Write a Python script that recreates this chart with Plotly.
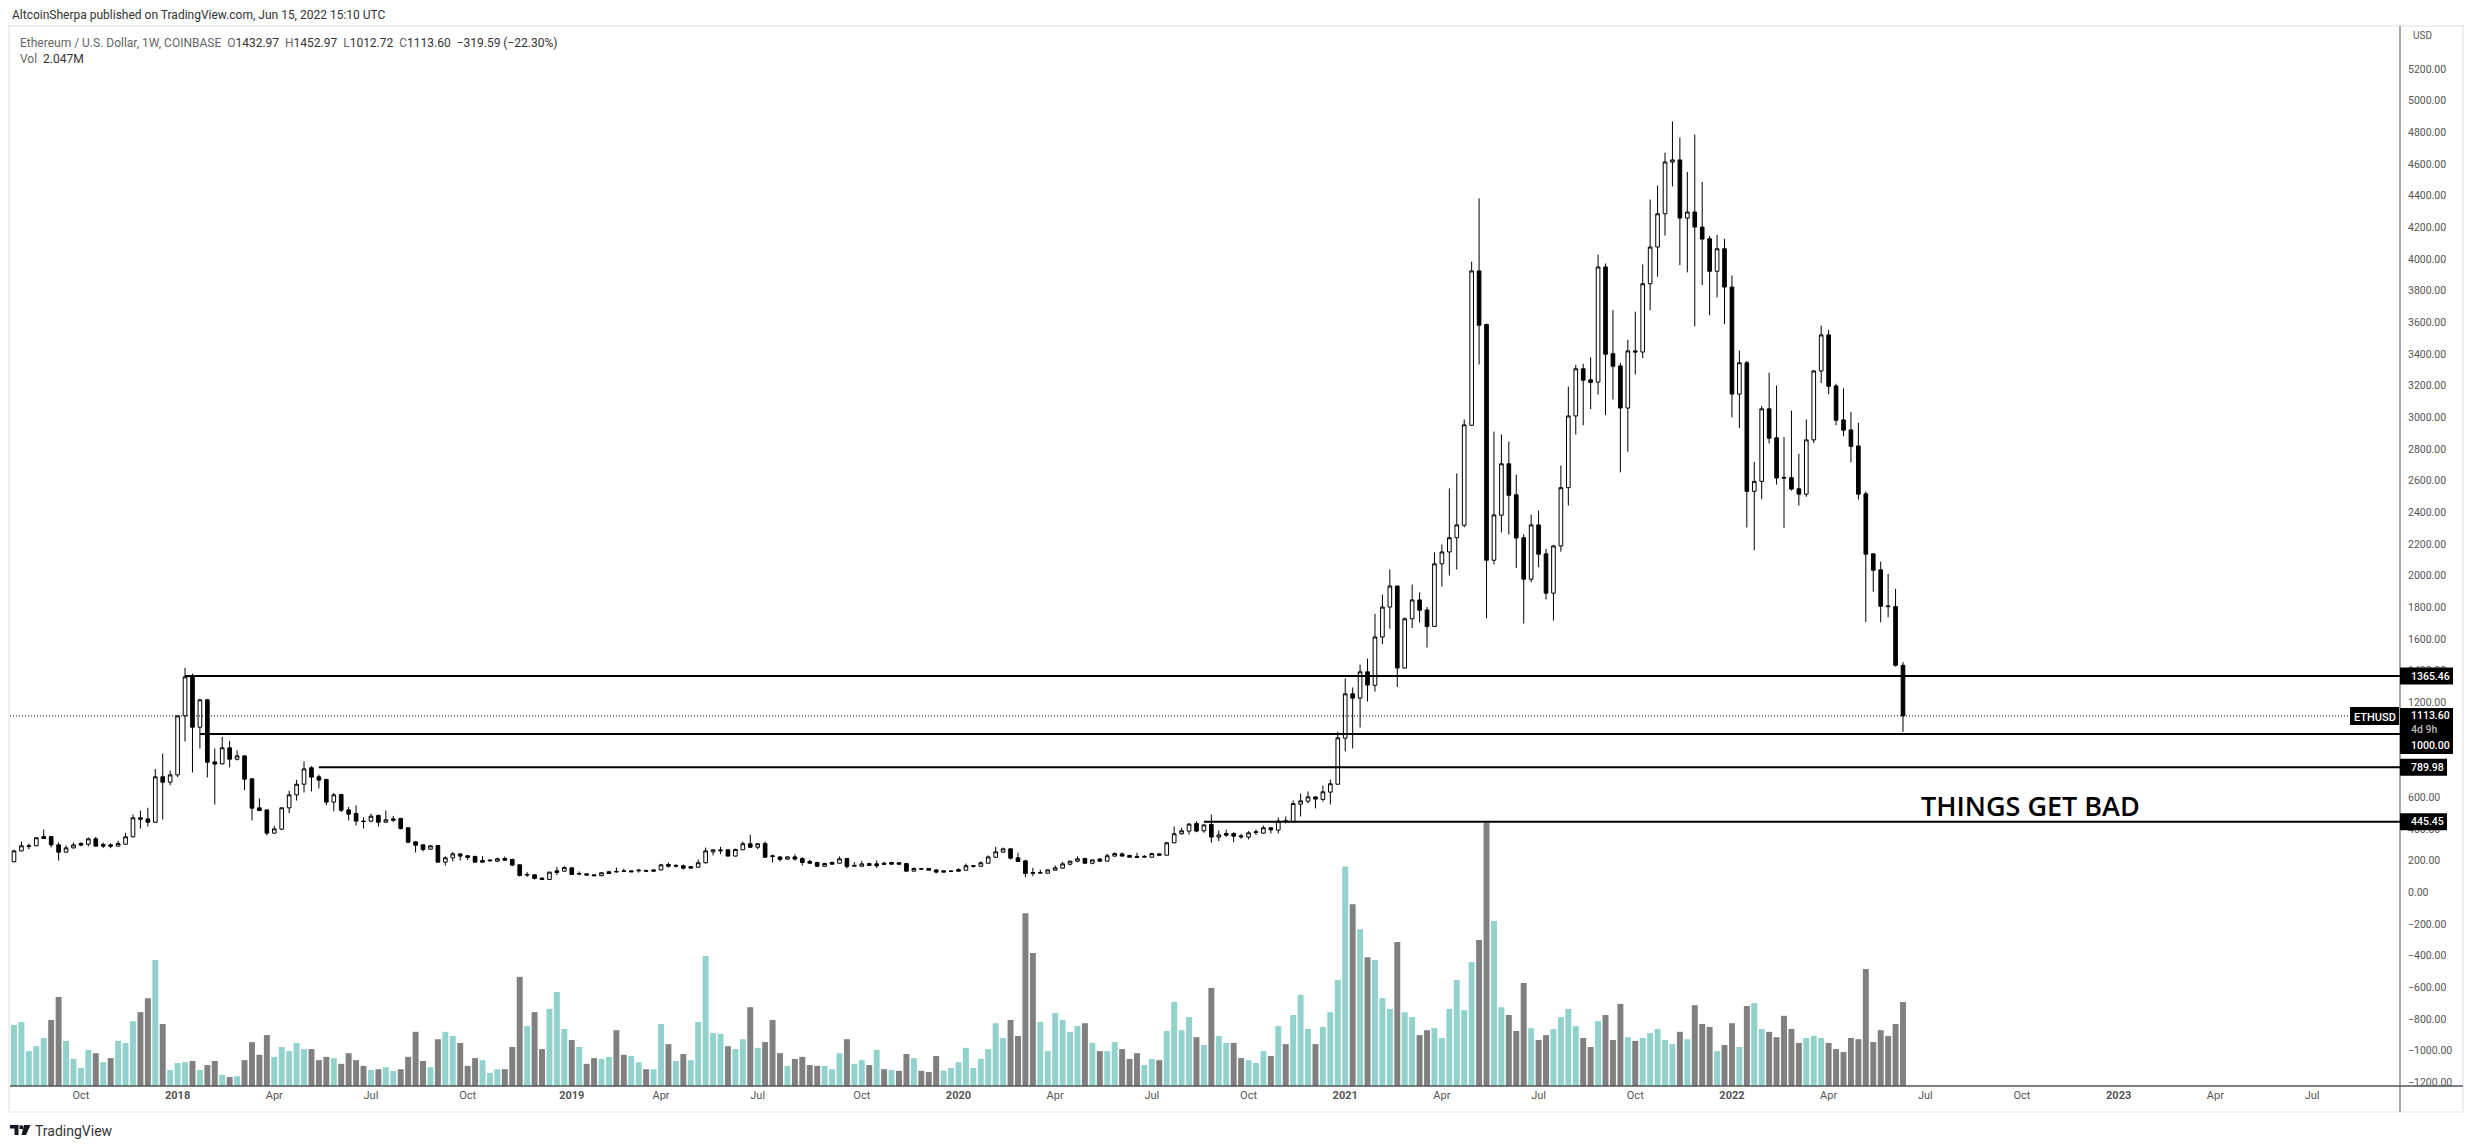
import pandas as pd
import plotly.graph_objects as go

# weekly ETHUSD bars
opens = [
    192, 261, 289, 293, 352, 352, 299, 253, 280, 308,
    303, 337, 301, 299, 291, 303, 350, 470, 463, 442,
    729, 695, 741, 1114, 1360, 1042, 1215, 823, 811, 912,
    840, 861, 716, 533, 520, 373, 398, 533, 615, 682,
    786, 729, 712, 569, 617, 520, 497, 449, 449, 485,
    442, 463, 466, 407, 318, 299, 272, 295, 190, 217,
    242, 230, 226, 200, 198, 196, 213, 207, 173, 108,
    110, 89, 80, 135, 133, 154, 114, 116, 110, 104,
    129, 131, 135, 135, 135, 137, 141, 141, 175, 164,
    167, 162, 158, 186, 255, 261, 268, 228, 268, 306,
    284, 308, 230, 223, 209, 223, 213, 194, 188, 164,
    188, 183, 213, 164, 164, 181, 179, 183, 188, 186,
    181, 133, 148, 150, 141, 135, 131, 143, 139, 162,
    164, 183, 221, 253, 274, 217, 198, 124, 120, 120,
    139, 152, 177, 196, 213, 183, 209, 196, 228, 242,
    232, 226, 221, 221, 242, 234, 312, 369, 386, 434,
    388, 428, 348, 371, 371, 356, 348, 377, 373, 407,
    392, 451, 445, 556, 575, 602, 586, 632, 682, 973,
    1253, 1226, 1392, 1307, 1612, 1801, 1934, 1416, 1727, 1846,
    1783, 1679, 2074, 2149, 2239, 2318, 2949, 3924, 3586, 2097,
    2381, 2706, 2510, 2239, 1977, 2320, 2137, 1889, 2187, 2555,
    3008, 3306, 3236, 3222, 3949, 3401, 3324, 3058, 3419, 3412,
    3843, 4075, 4285, 4612, 4625, 4258, 4296, 4201, 4127, 3922,
    4064, 3822, 3146, 3344, 2532, 2595, 3053, 2870, 2620, 2618,
    2548, 2514, 2857, 3292, 3520, 3198, 2983, 2920, 2819, 2516,
    2137, 2036, 1808, 1804, 1432.97,
]
highs = [
    268, 320, 308, 346, 396, 354, 314, 295, 314, 316,
    346, 350, 314, 308, 325, 375, 491, 516, 533, 779,
    876, 769, 1116, 1417, 1381, 1221, 1221, 908, 981, 956,
    895, 863, 720, 592, 522, 419, 535, 642, 710, 826,
    796, 743, 716, 628, 621, 539, 548, 472, 497, 491,
    516, 482, 470, 411, 320, 301, 297, 295, 226, 255,
    245, 232, 230, 228, 207, 219, 226, 211, 175, 127,
    111, 93, 128, 160, 165, 155, 131, 117, 111, 124,
    135, 156, 148, 136, 148, 143, 142, 179, 188, 177,
    175, 164, 207, 282, 272, 287, 269, 276, 320, 364,
    310, 320, 238, 226, 226, 238, 221, 204, 192, 186,
    194, 226, 214, 190, 198, 186, 200, 192, 192, 187,
    182, 156, 149, 151, 143, 136, 139, 150, 181, 169,
    194, 232, 287, 282, 276, 249, 204, 154, 143, 143,
    169, 192, 200, 226, 217, 207, 217, 244, 251, 251,
    238, 249, 234, 249, 244, 318, 415, 407, 438, 449,
    428, 491, 390, 396, 379, 369, 386, 396, 421, 409,
    472, 478, 579, 623, 636, 605, 674, 712, 1013, 1350,
    1293, 1438, 1476, 1758, 1880, 2038, 1936, 1736, 1943, 1894,
    1801, 2146, 2196, 2550, 2645, 2986, 3983, 4382, 3592, 2909,
    2891, 2846, 2638, 2261, 2385, 2410, 2169, 2194, 2695, 3193,
    3331, 3337, 3378, 4028, 3971, 3676, 3344, 3489, 3667, 3965,
    4375, 4463, 4671, 4868, 4767, 4549, 4785, 4486, 4145, 4152,
    4127, 3895, 3421, 3355, 2717, 3071, 3281, 3200, 2875, 3042,
    2769, 2986, 3299, 3579, 3552, 3211, 3182, 3033, 2965, 2530,
    2140, 2088, 2011, 1916, 1452.97,
]
lows = [
    190, 257, 272, 291, 337, 282, 200, 252, 276, 291,
    289, 289, 280, 278, 289, 301, 346, 402, 415, 440,
    459, 676, 727, 952, 756, 908, 725, 554, 807, 788,
    832, 645, 453, 512, 360, 369, 392, 499, 579, 630,
    636, 655, 550, 510, 506, 453, 421, 402, 442, 415,
    440, 444, 396, 310, 251, 257, 270, 189, 169, 194,
    200, 203, 186, 188, 194, 190, 198, 165, 99, 97,
    80, 78, 79, 108, 131, 111, 110, 107, 103, 102,
    116, 123, 127, 128, 124, 131, 132, 137, 156, 156,
    143, 150, 156, 181, 232, 240, 227, 227, 266, 280,
    272, 219, 188, 194, 207, 200, 169, 181, 162, 162,
    175, 181, 150, 162, 162, 167, 152, 175, 175, 175,
    131, 131, 145, 138, 118, 126, 127, 131, 137, 156,
    162, 181, 219, 249, 207, 192, 95, 101, 119, 119,
    139, 148, 169, 190, 181, 177, 194, 194, 226, 226,
    219, 215, 220, 219, 232, 232, 310, 364, 364, 379,
    375, 312, 322, 350, 316, 337, 333, 360, 369, 371,
    371, 434, 442, 478, 562, 529, 573, 554, 680, 889,
    908, 1040, 1204, 1267, 1567, 1664, 1296, 1414, 1668, 1704,
    1546, 1675, 1930, 2000, 2038, 2304, 2945, 3333, 1731, 2070,
    2273, 2259, 2047, 1697, 1957, 2052, 1849, 1716, 2151, 2442,
    2891, 2949, 3051, 3143, 3013, 3112, 2652, 2783, 3270, 3374,
    3676, 3888, 4147, 4458, 3960, 3915, 3574, 3834, 3644, 3757,
    3588, 2999, 2931, 2304, 2160, 2482, 2834, 2575, 2300, 2537,
    2442, 2498, 2837, 3216, 3146, 2949, 2880, 2715, 2480, 1707,
    1898, 1704, 1736, 1425, 1012.72,
]
closes = [
    261, 293, 293, 344, 339, 299, 253, 280, 299, 297,
    337, 291, 291, 291, 308, 350, 470, 461, 442, 729,
    695, 741, 1114, 1360, 1042, 1215, 821, 809, 912, 840,
    861, 714, 531, 516, 373, 400, 533, 615, 682, 779,
    727, 708, 569, 615, 518, 493, 449, 447, 480, 442,
    457, 455, 402, 316, 297, 270, 293, 190, 217, 242,
    228, 219, 190, 190, 202, 211, 202, 171, 106, 112,
    87, 80, 127, 125, 156, 112, 118, 108, 104, 123,
    118, 129, 131, 129, 139, 133, 133, 173, 164, 169,
    152, 152, 186, 261, 268, 266, 228, 270, 306, 284,
    306, 221, 226, 207, 223, 209, 188, 183, 164, 181,
    177, 211, 162, 169, 179, 169, 167, 177, 177, 177,
    133, 150, 146, 139, 127, 127, 133, 133, 167, 167,
    186, 223, 255, 274, 215, 194, 118, 120, 124, 141,
    154, 179, 196, 211, 183, 204, 196, 230, 244, 228,
    221, 221, 226, 244, 234, 312, 369, 388, 430, 386,
    425, 348, 362, 360, 354, 350, 375, 381, 407, 394,
    449, 447, 560, 577, 602, 588, 634, 685, 975, 1253,
    1226, 1392, 1308, 1612, 1801, 1934, 1416, 1727, 1846, 1781,
    1679, 2074, 2149, 2239, 2320, 2952, 3924, 3581, 2097, 2383,
    2706, 2507, 2237, 1977, 2320, 2135, 1889, 2187, 2555, 3008,
    3306, 3234, 3220, 3949, 3398, 3322, 3058, 3419, 3412, 3843,
    4075, 4285, 4612, 4625, 4258, 4296, 4201, 4125, 3922, 4064,
    3822, 3146, 3344, 2532, 2595, 3053, 2868, 2616, 2616, 2546,
    2514, 2857, 3292, 3520, 3195, 2981, 2918, 2816, 2514, 2135,
    2034, 1806, 1804, 1433, 1113.60,
]
# volume in millions
volumes = [
    1.49, 1.56, 0.85, 0.97, 1.17, 1.61, 2.17, 1.10, 0.66, 0.44,
    0.88, 0.80, 0.58, 0.68, 1.10, 1.05, 1.58, 1.80, 2.14, 3.07,
    1.51, 0.39, 0.56, 0.58, 0.61, 0.39, 0.51, 0.61, 0.27, 0.22,
    0.24, 0.63, 1.07, 0.76, 1.24, 0.71, 0.95, 0.85, 1.05, 0.90,
    0.90, 0.63, 0.71, 0.68, 0.54, 0.80, 0.63, 0.49, 0.39, 0.41,
    0.46, 0.37, 0.41, 0.71, 1.32, 0.61, 0.46, 1.14, 1.32, 1.22,
    1.05, 0.49, 0.68, 0.63, 0.32, 0.41, 0.41, 0.95, 2.66, 1.46,
    1.80, 0.90, 1.88, 2.29, 1.39, 1.12, 0.95, 0.54, 0.68, 0.66,
    0.71, 1.36, 0.76, 0.73, 0.58, 0.41, 0.41, 1.51, 1.02, 0.61,
    0.78, 0.63, 1.56, 3.17, 1.29, 1.27, 0.97, 0.90, 1.14, 1.92,
    0.93, 1.07, 1.61, 0.80, 0.49, 0.66, 0.71, 0.51, 0.49, 0.49,
    0.41, 0.80, 1.14, 0.54, 0.63, 0.51, 0.88, 0.41, 0.39, 0.37,
    0.78, 0.68, 0.37, 0.34, 0.73, 0.37, 0.44, 0.58, 0.93, 0.44,
    0.66, 0.90, 1.53, 1.17, 1.61, 1.22, 4.21, 3.24, 1.56, 0.85,
    1.78, 1.61, 1.32, 1.46, 1.53, 1.05, 0.85, 0.85, 1.07, 0.90,
    0.66, 0.80, 0.51, 0.66, 0.63, 1.34, 2.05, 1.36, 1.68, 1.19,
    1.00, 2.39, 1.22, 1.05, 1.05, 0.68, 0.63, 0.56, 0.85, 0.73,
    1.46, 1.02, 1.73, 2.22, 1.39, 1.02, 1.44, 1.80, 2.58, 5.35,
    4.43, 3.82, 3.14, 3.07, 2.14, 1.88, 3.51, 1.80, 1.68, 1.24,
    1.36, 1.41, 1.17, 1.88, 2.58, 1.85, 3.02, 3.56, 6.42, 4.02,
    1.92, 1.73, 1.34, 2.51, 1.41, 1.12, 1.24, 1.39, 1.68, 1.88,
    1.46, 1.17, 0.95, 1.58, 1.73, 1.12, 2.00, 1.19, 1.10, 1.17,
    1.29, 1.39, 1.12, 1.02, 1.32, 1.14, 1.97, 1.51, 1.44, 0.85,
    1.00, 1.53, 0.95, 1.95, 2.02, 1.39, 1.32, 1.19, 1.71, 1.39,
    1.05, 1.17, 1.22, 1.17, 1.05, 0.90, 0.83, 1.17, 1.14, 2.85,
    1.07, 1.36, 1.22, 1.51, 2.047,
]
# weeks whose volume bar is teal although the body closed a little lower
teal_lower_weeks = [4, 9, 12, 51, 63, 73, 80, 83, 86, 91, 110, 116, 118, 125, 127, 163]

levels = [1365.46, 1000.00, 789.98, 445.45]
level_starts = ["2018-01-08", "2018-01-22", "2018-05-14", "2020-08-24"]
level_labels = ["1365.46", "1000.00", "789.98", "445.45"]
last_close = 1113.60

tick_dates = ["2017-10-02", "2018-01-01", "2018-04-02", "2018-07-02", "2018-10-01", "2019-01-07",
              "2019-04-01", "2019-07-01", "2019-10-07", "2020-01-06", "2020-04-06", "2020-07-06",
              "2020-10-05", "2021-01-04", "2021-04-05", "2021-07-05", "2021-10-04", "2022-01-03",
              "2022-04-04", "2022-07-04", "2022-10-03", "2023-01-02", "2023-04-03", "2023-07-03"]
tick_labels = ["Oct", "<b>2018</b>", "Apr", "Jul", "Oct", "<b>2019</b>", "Apr", "Jul", "Oct", "<b>2020</b>",
               "Apr", "Jul", "Oct", "<b>2021</b>", "Apr", "Jul", "Oct", "<b>2022</b>", "Apr", "Jul", "Oct",
               "<b>2023</b>", "Apr", "Jul"]
# 1000 and 800 sit fully behind the black tags
price_ticks = [t for t in range(-1200, 5201, 200) if t not in (800, 1000)]

# page is 2474x1148, the browser keeps an 8px body margin around the figure
BODY_MARGIN = 8
PAGE_W, PAGE_H = 2474, 1148
LEFT, RIGHT, TOP, BOTTOM = 10, 2400, 26, 1086
FONT = "Roboto"
TEAL = "#92D2CC"
GRAY = "#808080"


def px(x):
    return (x - LEFT) / (RIGHT - LEFT)


def py(y):
    return (BOTTOM - y) / (BOTTOM - TOP)


dates = pd.date_range("2017-07-31", periods=len(opens), freq="7D")
vol_colors = [TEAL if c >= o or i in teal_lower_weeks else GRAY
              for i, (o, c) in enumerate(zip(opens, closes))]

fig = go.Figure()
fig.add_trace(go.Bar(x=dates, y=volumes, yaxis="y", marker=dict(color=vol_colors, line_width=0),
                     width=0.8 * 7 * 24 * 3600 * 1000))
fig.add_trace(go.Candlestick(x=dates, open=opens, high=highs, low=lows, close=closes, yaxis="y2",
                             whiskerwidth=0,
                             increasing=dict(fillcolor="#FFFFFF", line=dict(color="#000000", width=1)),
                             decreasing=dict(fillcolor="#000000", line=dict(color="#000000", width=1))))

shapes = []
# frame around the chart, axis lines
shapes.append(dict(type="rect", xref="paper", yref="paper", x0=px(9), x1=px(2463), y0=py(1112), y1=py(26),
                   line=dict(color="#EEEEF3", width=2), layer="below"))
shapes.append(dict(type="line", xref="paper", yref="paper", x0=1, x1=1, y0=py(1112), y1=1,
                   line=dict(color="#50535E", width=1)))
shapes.append(dict(type="line", xref="paper", yref="paper", x0=0, x1=px(2463), y0=0, y1=0,
                   line=dict(color="#50535E", width=1.5)))

# dotted last price line and the four levels
shapes.append(dict(type="line", xref="paper", yref="y2", x0=0, x1=1, y0=last_close, y1=last_close,
                   line=dict(color="#000000", width=1, dash="1px,2px")))
for level, start in zip(levels, level_starts):
    shapes.append(dict(type="line", xref="x", yref="y2", x0=start, x1="2023-09-23 19:00", y0=level, y1=level,
                       line=dict(color="#000000", width=2)))


# black price tags on the axis
def tag(value, x_left, x_right, half_height):
    return dict(type="rect", xref="paper", yref="y2", ysizemode="pixel", yanchor=value,
                x0=px(x_left), x1=px(x_right), y0=-half_height, y1=half_height,
                fillcolor="#000000", line_width=0)


for level, right in zip(levels, [2453, 2453, 2447, 2447]):
    if level != 1000.00:
        shapes.append(tag(level, 2400, right, 8.5))
# the last price and 1000 labels stack into one block
shapes.append(dict(type="rect", xref="paper", yref="paper", x0=px(2400), x1=px(2453), y0=py(754), y1=py(708),
                   fillcolor="#000000", line_width=0))
shapes.append(tag(last_close, 2350, 2399, 9))

# TradingView mark
logo = ["M0,-39 L8.5,-39 L8.5,-49 L4.5,-49 L4.5,-42.5 L0,-42.5 Z",
        "M9.5,-39.5 L13,-39.5 L13,-43 L9.5,-43 Z",
        "M14,-39 L20.5,-39 L16,-49 L11.5,-49 Z"]
for path in logo:
    shapes.append(dict(type="path", xref="paper", yref="paper", xsizemode="pixel", ysizemode="pixel",
                       xanchor=0, yanchor=0, path=path, fillcolor="#131722", line_width=0))

annotations = []


def note(text, x, y, size=12, color="#333333", anchor="left", weight=None, family=FONT):
    annotations.append(dict(text=text, xref="paper", yref="paper", x=px(x), y=py(y), xanchor=anchor, yanchor="middle",
                            showarrow=False, align="left", font=dict(family=family, size=size, color=color, weight=weight)))


def value_note(text, value, color="#FFFFFF", yshift=0):
    annotations.append(dict(text=text, xref="paper", yref="y2", x=1, y=value, xanchor="left", yanchor="middle",
                            xshift=9, yshift=yshift, showarrow=False,
                            font=dict(family=FONT, size=10.5, color=color, weight=500)))


note("AltcoinSherpa published on TradingView.com, Jun 15, 2022 15:10 UTC", 10, 15)
dark = '<span style="color:#333333">%s</span>'
note("Ethereum / U.S. Dollar, 1W, COINBASE&nbsp;&nbsp;O" + dark % "1432.97" + "&nbsp;&nbsp;H" + dark % "1452.97"
     + "&nbsp;&nbsp;L" + dark % "1012.72" + "&nbsp;&nbsp;C" + dark % "1113.60" + "&nbsp;&nbsp;"
     + dark % "−319.59 (−22.30%)", 18, 43, color="#666666")
note("Vol&nbsp;&nbsp;" + dark % "2.047M", 18, 59, color="#666666")
note("TradingView", 33, 1131, size=14)
note("USD", 2411, 35, size=10, color="#555555")
note("THINGS GET BAD", 2030.5, 805, size=27, color="#000000", anchor="center", weight=600, family="Open Sans")
note("ETHUSD", 2374.5, 717, size=11, color="#FFFFFF", anchor="center", weight=500)

value_note(level_labels[0], levels[0])
value_note(level_labels[2], levels[2])
value_note(level_labels[3], levels[3])
value_note("1113.60", last_close)
value_note("4d 9h", last_close, color="#BBBBBB", yshift=-14)
value_note(level_labels[1], levels[1], yshift=-12)

fig.update_layout(
    width=PAGE_W - BODY_MARGIN, height=PAGE_H - 2 * BODY_MARGIN, autosize=False,
    margin=dict(l=LEFT - BODY_MARGIN, r=PAGE_W - RIGHT, t=TOP - BODY_MARGIN, b=PAGE_H - BODY_MARGIN - BOTTOM, pad=0),
    paper_bgcolor="#FFFFFF", plot_bgcolor="#FFFFFF",
    showlegend=False, barmode="overlay", dragmode=False,
    font=dict(family=FONT, size=11, color="#555555"),
    shapes=shapes, annotations=annotations,
    xaxis=dict(type="date", range=["2017-07-27 06:00", "2023-09-23 19:00"], rangeslider=dict(visible=False),
               showgrid=False, zeroline=False, showline=False, ticks="",
               tickmode="array", tickvals=tick_dates, ticktext=tick_labels, tickangle=0, ticklabelstandoff=1,
               tickfont=dict(family=FONT, size=11, color="#555555")),
    yaxis=dict(visible=False, range=[0, 25.83]),
    yaxis2=dict(overlaying="y", side="right", range=[-1224, 5471], showgrid=False, zeroline=False, showline=False,
                ticks="", tickmode="array", tickvals=price_ticks, tickformat=".2f", ticklabelstandoff=7,
                tickfont=dict(family=FONT, size=10.5, color="#555555")),
)

fig.write_html("out.html")
